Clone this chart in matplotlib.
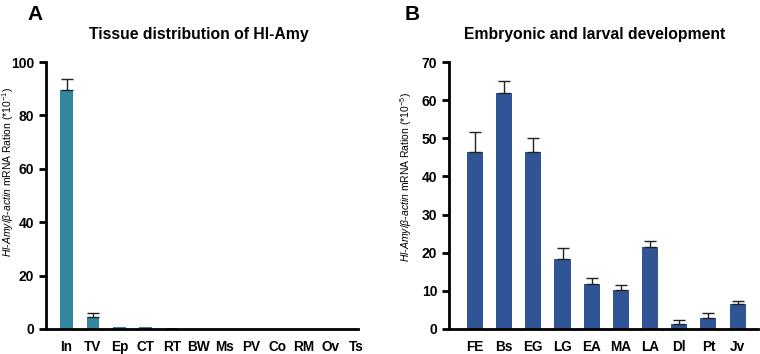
import numpy as np
import matplotlib
matplotlib.use('Agg')
import matplotlib.pyplot as plt

plt.rcParams['font.family'] = ['Liberation Sans', 'DejaVu Sans']
plt.rcParams['mathtext.fontset'] = 'custom'
plt.rcParams['mathtext.rm'] = 'Liberation Sans'
plt.rcParams['mathtext.it'] = 'Liberation Sans:italic'
plt.rcParams['mathtext.bf'] = 'Liberation Sans:bold'

# Panel A: tissue distribution
tissues = ['In', 'TV', 'Ep', 'CT', 'RT', 'BW', 'Ms', 'PV', 'Co', 'RM', 'Ov', 'Ts']
tissue_vals = [89.6, 4.4, 0.9, 0.7, 0.4, 0, 0, 0, 0, 0, 0, 0]
tissue_err = [4.1, 1.7, 0, 0, 0, 0, 0, 0, 0, 0, 0, 0]

# Panel B: embryonic and larval development
stages = ['FE', 'Bs', 'EG', 'LG', 'EA', 'MA', 'LA', 'Dl', 'Pt', 'Jv']
stage_vals = [46.3, 61.8, 46.5, 18.4, 11.8, 10.1, 21.6, 1.4, 2.9, 6.6]
stage_err = [5.4, 3.2, 3.6, 2.8, 1.5, 1.4, 1.4, 0.9, 1.4, 0.8]

fig = plt.figure(figsize=(7.6, 3.54), dpi=100)

def style_axis(ax):
    for s in ['top', 'right']:
        ax.spines[s].set_visible(False)
    ax.spines['left'].set_linewidth(2)
    ax.spines['bottom'].set_linewidth(2)
    ax.tick_params(axis='y', direction='out', length=5, width=2, labelsize=10)
    ax.tick_params(axis='x', length=0, labelsize=9.8, pad=8)
    for lab in ax.get_xticklabels() + ax.get_yticklabels():
        lab.set_fontweight('bold')

# --- A ---
axA = fig.add_axes([46 / 760, 25 / 354, 312 / 760, 267 / 354])
xa = np.arange(len(tissues))
axA.bar(xa, tissue_vals, width=0.48, color='#33889f')
ea = np.array(tissue_err)
mask = ea > 0
axA.errorbar(xa[mask], np.array(tissue_vals)[mask], yerr=[np.zeros(mask.sum()), ea[mask]],
             fmt='none', ecolor='#222222', elinewidth=1, capsize=4, capthick=1)
axA.set_xlim(-0.78, 11.05)
axA.set_ylim(0, 100)
axA.set_yticks([0, 20, 40, 60, 80, 100])
axA.set_xticks(xa)
axA.set_xticklabels(tissues)
style_axis(axA)
fig.text(8 / 760, 1 - 172 / 354,
         r'$\mathit{Hl}$-$\mathit{Amy/β}$-$\mathit{actin}$ mRNA Ration (*10$^{-1}$)',
         rotation=90, ha='center', va='center', fontsize=7.5)
fig.text(199 / 760, 1 - 35 / 354, 'Tissue distribution of Hl-Amy',
         ha='center', va='center', fontsize=11.3, fontweight='bold')
fig.text(35 / 760, 1 - 14 / 354, 'A', ha='center', va='center',
         fontsize=15, fontweight='bold')

# --- B ---
axB = fig.add_axes([449 / 760, 25 / 354, 309 / 760, 267 / 354])
xb = np.arange(len(stages))
axB.bar(xb, stage_vals, width=0.55, color='#2f5597')
axB.errorbar(xb, stage_vals, yerr=[np.zeros(len(stages)), stage_err],
             fmt='none', ecolor='#222222', elinewidth=1, capsize=4, capthick=1)
axB.set_xlim(-0.89, 9.7)
axB.set_ylim(0, 70)
axB.set_yticks(range(0, 71, 10))
axB.set_xticks(xb)
axB.set_xticklabels(stages)
style_axis(axB)
fig.text(406 / 760, 1 - 177 / 354,
         r'$\mathit{Hl}$-$\mathit{Amy/β}$-$\mathit{actin}$ mRNA Ration (*10$^{-5}$)',
         rotation=90, ha='center', va='center', fontsize=7.5)
fig.text(595 / 760, 1 - 35 / 354, 'Embryonic and larval development',
         ha='center', va='center', fontsize=11.3, fontweight='bold')
fig.text(412 / 760, 1 - 14 / 354, 'B', ha='center', va='center',
         fontsize=15, fontweight='bold')

fig.savefig('out.png', dpi=100)
